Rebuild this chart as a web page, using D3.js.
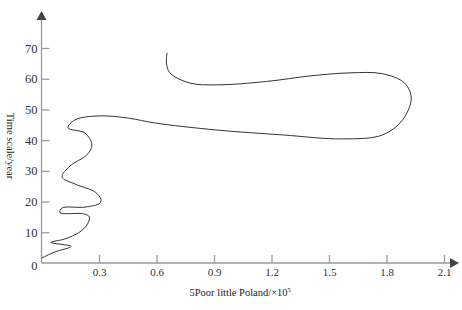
<!DOCTYPE html>
<html>
<head>
<meta charset="utf-8">
<script src="https://cdn.jsdelivr.net/npm/d3@7"></script>
<style>
  body { margin: 0; background: #fff; }
  .axis text { font-family: "Liberation Serif", serif; font-size: 11px; fill: #333; }
  .y-axis text { font-size: 12.5px; }
  .axis path, .axis line { stroke: #9a9a9a; stroke-width: 1.3; }
</style>
</head>
<body>
<div id="chart-area"></div>
<script>

// Data: population (x10^5) vs year
var population = [0.00, 0.07, 0.154, 0.05, 0.12, 0.20, 0.24, 0.25, 0.22, 0.096, 0.107, 0.227, 0.305, 0.31, 0.28,
    0.175, 0.107, 0.149, 0.237, 0.263, 0.227, 0.138, 0.175, 0.305, 0.46, 0.59, 0.913, 1.258, 1.571, 1.78,
    1.884, 1.929, 1.894, 1.78, 1.608, 1.40, 1.174, 0.913, 0.774, 0.67, 0.652, 0.655];
var year = [1.6, 3.6, 5.4, 6.7, 7.8, 10.1, 12.7, 15.0, 16.0, 16.4, 17.9, 18.2, 19.5, 20.8, 23.1,
    25.7, 28.0, 31.6, 35.2, 38.4, 42.3, 44.0, 46.6, 47.9, 47.1, 45.6, 43.3, 41.7, 40.4, 41.7,
    46.6, 53.7, 58.6, 61.6, 61.9, 60.9, 59.1, 58.0, 58.6, 61.9, 65.1, 68.4];

var xTicks = [0.3, 0.6, 0.9, 1.2, 1.5, 1.8, 2.1];
var yTicks = [0, 10, 20, 30, 40, 50, 60, 70];

var data = population.map(function(p, i) { return {x: p, y: year[i]}; });

var margin = {top: 12, right: 6, bottom: 47, left: 41.5};
var width = 462 - margin.left - margin.right,
    height = 310 - margin.top - margin.bottom;

var svg = d3.select("#chart-area").append("svg")
    .attr("width", 462)
    .attr("height", 310)
  .append("g")
    .attr("transform", "translate(" + margin.left + "," + margin.top + ")");

// Scales
var x = d3.scaleLinear().domain([0, 2.1]).range([0, 402.5]);
var y = d3.scaleLinear().domain([0, 70]).range([251, 36]);

// Axes
var xAxis = d3.axisBottom(x)
    .tickValues(xTicks)
    .tickFormat(d3.format(".1f"))
    .tickSizeInner(-8)
    .tickSizeOuter(0)
    .tickPadding(5);

var yAxis = d3.axisLeft(y)
    .tickValues(yTicks)
    .tickFormat(d3.format("d"))
    .tickSizeInner(-8)
    .tickSizeOuter(0)
    .tickPadding(4);

svg.append("g")
    .attr("class", "axis x-axis")
    .attr("transform", "translate(0," + y(0) + ")")
    .call(xAxis)
    .select(".domain").attr("d", "M0,0H" + (width - 4));

var gy = svg.append("g")
    .attr("class", "axis y-axis")
    .call(yAxis);
gy.select(".domain").attr("d", "M0," + y(0) + "V6");
gy.selectAll(".tick").filter(function(d) { return d === 0; })
    .select("line").remove();
gy.selectAll(".tick text").filter(function(d) { return d === 0; })
    .attr("dy", "0.55em");

// Arrow heads
svg.append("path")
    .attr("d", "M-5,8L0,-1L5,8Z")
    .attr("fill", "#444");
svg.append("path")
    .attr("d", "M" + (width - 6) + "," + (y(0) - 5) + "L" + (width + 3) + "," + y(0) + "L" + (width - 6) + "," + (y(0) + 5) + "Z")
    .attr("fill", "#444");

// Curve
var line = d3.line()
    .x(function(d) { return x(d.x); })
    .y(function(d) { return y(d.y); })
    .curve(d3.curveCatmullRom.alpha(0.5));

svg.append("path")
    .datum(data)
    .attr("d", line)
    .attr("fill", "none")
    .attr("stroke", "#333")
    .attr("stroke-width", 1);

// Axis titles
var xTitle = svg.append("text")
    .attr("x", 148)
    .attr("y", 284)
    .attr("font-family", "Liberation Serif, serif")
    .attr("font-size", "10.5px")
    .attr("fill", "#222")
    .text("5Poor little Poland/×10");
xTitle.append("tspan")
    .attr("dy", "-4")
    .attr("font-size", "6.5px")
    .text("5");

svg.append("text")
    .attr("transform", "translate(" + (-35) + ",134) rotate(90)")
    .attr("text-anchor", "middle")
    .attr("font-family", "Liberation Serif, serif")
    .attr("font-size", "10.5px")
    .attr("fill", "#222")
    .text("Time scale/year");

</script>
</body>
</html>
